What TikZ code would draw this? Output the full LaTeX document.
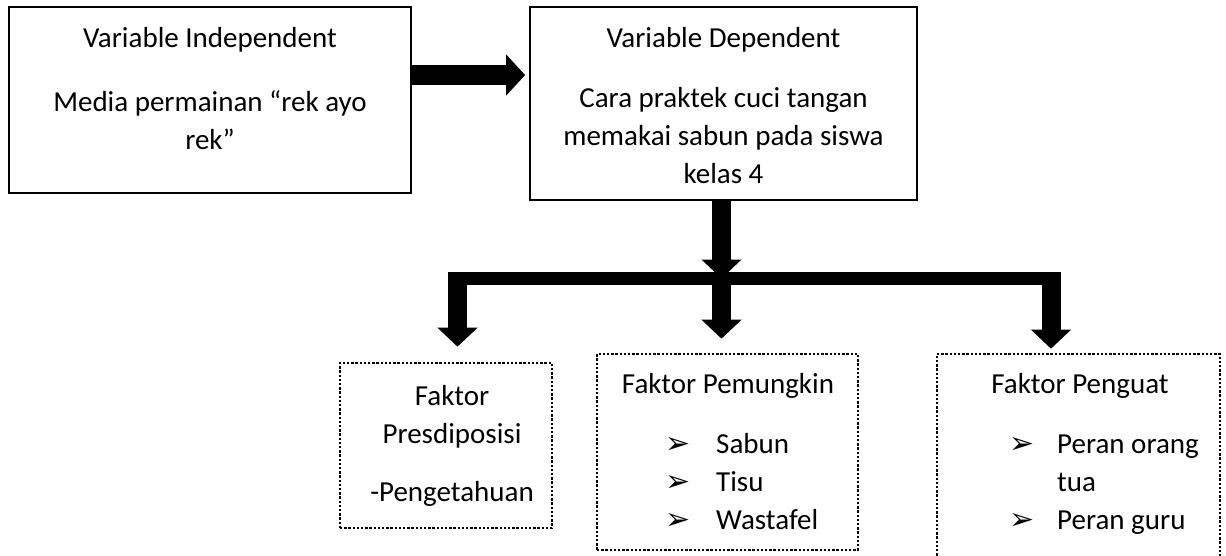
\documentclass[tikz,border=0pt]{standalone}
\usepackage{fontspec}
\setmainfont{Carlito}
\newfontfamily\arrowfont{DejaVu Sans}
\usetikzlibrary{arrows.meta,positioning}

\newcommand{\tip}{\makebox[20pt]{\arrowfont\fontsize{30}{38}\selectfont ➢}}
\newcommand{\stack}[1]{\begin{tabular}[t]{@{}c@{}}#1\end{tabular}}
\newcommand{\bullets}[2][28pt]{\begin{tabular}[t]{@{}c@{\hspace{#1}}l@{}}#2\end{tabular}}

\begin{document}
\begin{tikzpicture}[x=1pt, y=-1pt,
  var/.style    = {draw, line width=1.7pt, inner sep=0pt},
  factor/.style = {draw, line width=2.6pt, dash pattern=on 2.4pt off 1.8pt, inner sep=0pt},
  txt/.style    = {inner sep=0pt, font=\fontsize{29}{38}\selectfont},
  fat/.style    = {line width=19pt, -{Triangle[length=19pt,width=39pt]}},
  bar/.style    = {line width=13pt},
]
  \useasboundingbox (0,0) rectangle (1226,555);

  % the two variables
  \node[var, minimum width=402pt, minimum height=186pt] (indep) at (210,100) {};
  \node[var, minimum width=387pt, minimum height=193pt] (dep) at (723.5,103.5) {};
  \node[txt, anchor=base] (indep-t) at (210,47)
    {\stack{Variable Independent\\[26pt] Media permainan “rek ayo\\ rek”}};
  \node[txt, anchor=base] (dep-t) at (723.5,47)
    {\stack{Variable Dependent\\[22pt] Cara praktek cuci tangan\\ memakai sabun pada siswa\\ kelas 4}};

  % the three factors (the last box runs past the page)
  \node[factor, minimum width=212pt, minimum height=165pt] (pres) at (446,445.5) {};
  \node[factor, minimum width=261pt, minimum height=196pt] (pem) at (727.5,452) {};
  \node[factor, minimum width=283pt, minimum height=226pt] (pen) at (1078.5,467) {};

  \node[txt, anchor=base] (pres-t) at (452,405)
    {\stack{Faktor\\ Presdiposisi\\[20pt] -Pengetahuan}};
  \node[txt, anchor=base] (pem-t) at (728,393) {Faktor Pemungkin};
  \node[txt, anchor=base west] (pem-l) at (668,453)
    {\bullets{\tip & Sabun\\ \tip & Tisu\\ \tip & Wastafel}};
  \node[txt, anchor=base] (pen-t) at (1080,393) {Faktor Penguat};
  \node[txt, anchor=base west] (pen-l) at (1012,453)
    {\bullets[25pt]{\tip & Peran orang\\ & tua\\ \tip & Peran guru}};

  \coordinate (push) at (411,75);
  \coordinate (split) at (721.5,278.5);
  \coordinate (barL) at (448,278.5);
  \coordinate (barR) at (1060,278.5);
  \coordinate (dropL) at (457.5,272);
  \coordinate (dropR) at (1051,272);

  \draw[fat, line width=20pt, -{Triangle[length=19pt,width=40pt]}, shorten >=4pt]
    (push) -- (push -| dep.west);
  \draw[fat] (dep.south -| split) -- (split);
  \draw[bar] (barL) -- (barR);
  \draw[fat, shorten >=15pt] (dropL) -- (dropL |- pres.north);
  \draw[fat, shorten >=14pt] (split) -- (split |- pem.north);
  \draw[fat, shorten >=4pt] (dropR) -- (dropR |- pen.north);
\end{tikzpicture}
\end{document}
